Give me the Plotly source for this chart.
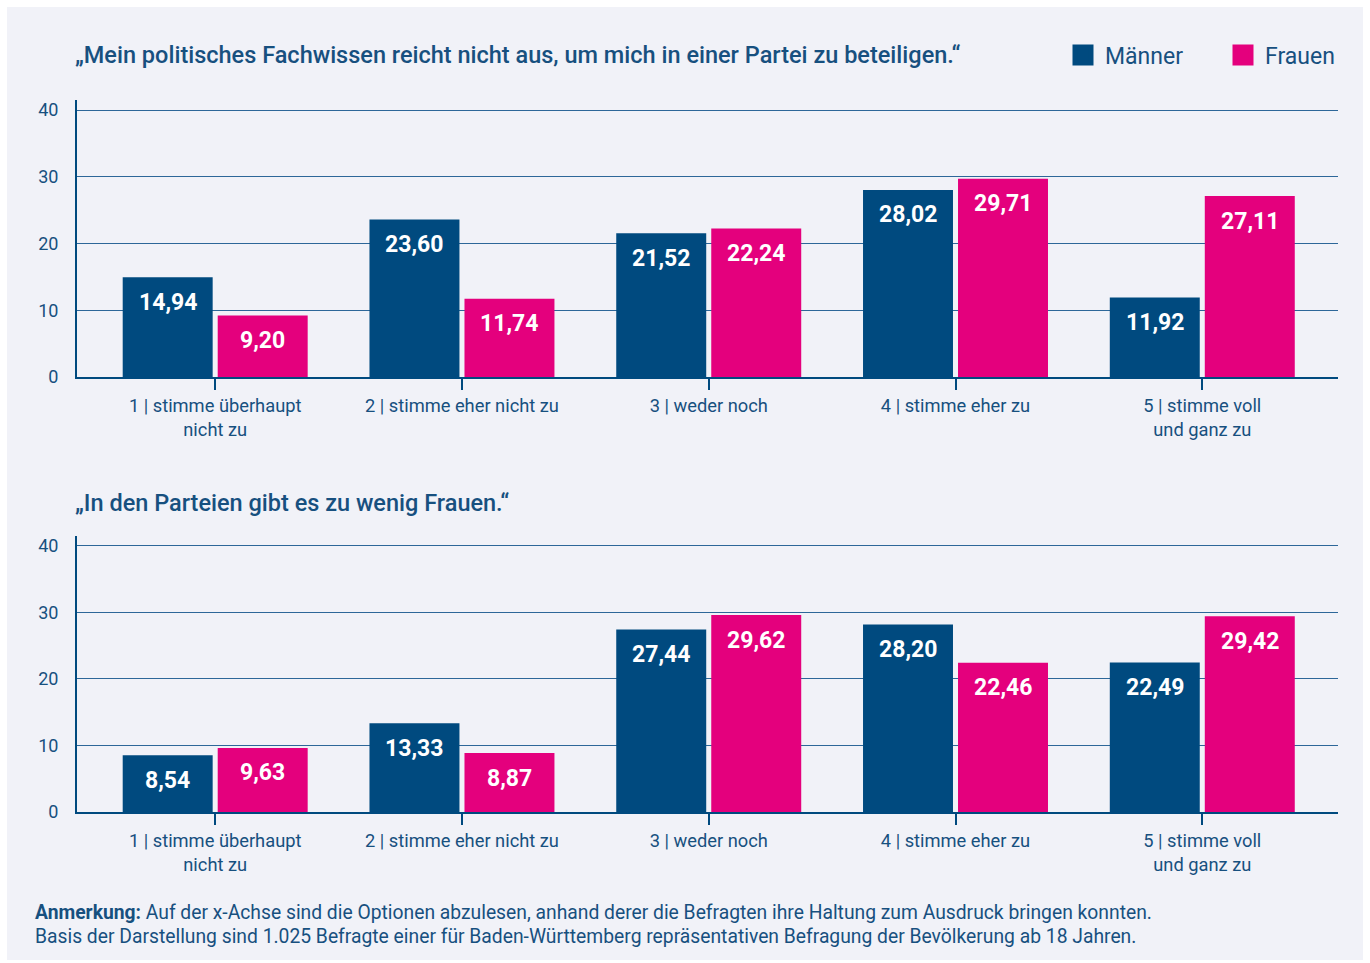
import plotly.graph_objects as go

W, H = 1370, 963
categories = ["1 | stimme überhaupt<br>nicht zu", "2 | stimme eher nicht zu", "3 | weder noch",
              "4 | stimme eher zu", "5 | stimme voll<br>und ganz zu"]
maenner_1 = [14.94, 23.60, 21.52, 28.02, 11.92]
frauen_1 = [9.20, 11.74, 22.24, 29.71, 27.11]
maenner_2 = [8.54, 13.33, 27.44, 28.20, 22.49]
frauen_2 = [9.63, 8.87, 29.62, 22.46, 29.42]
title_1 = "„Mein politisches Fachwissen reicht nicht aus, um mich in einer Partei zu beteiligen.“"
title_2 = "„In den Parteien gibt es zu wenig Frauen.“"
note_1 = "<b>Anmerkung:</b> Auf der x-Achse sind die Optionen abzulesen, anhand derer die Befragten ihre Haltung zum Ausdruck bringen konnten."
note_2 = "Basis der Darstellung sind 1.025 Befragte einer für Baden-Württemberg repräsentativen Befragung der Bevölkerung ab 18 Jahren."

NAVY = "#004a7f"
PINK = "#e4007d"
TXT = "#17507f"
GRID = "#2d6799"
FONT = "Roboto"
BARGAP = 0.23
BARGROUPGAP = 0.053

def px_x(p):
    return p / W

def px_y(p):
    return (H - p) / H

def fmt(v):
    return f"{v:.2f}".replace(".", ",")

fig = go.Figure()
label_annotations = []

def add_bars(m, f, xa, ya):
    slot = (1 - BARGAP) / 2
    for k, (name, vals, col) in enumerate((("Männer", m, NAVY), ("Frauen", f, PINK))):
        fig.add_trace(go.Bar(
            x=categories, y=vals, name=name, marker=dict(color=col, line=dict(width=0)),
            xaxis=xa, yaxis=ya, showlegend=False, hoverinfo="skip",
        ))
        off = (k - 0.5) * slot
        for i, v in enumerate(vals):
            label_annotations.append(dict(
                x=i + off, y=v, xref=xa, yref=ya, text=fmt(v), showarrow=False,
                xanchor="center", yanchor="middle", yshift=-25,
                font=dict(family=FONT, size=23, color="white", weight="bold"),
            ))

add_bars(maenner_1, frauen_1, "x", "y")
add_bars(maenner_2, frauen_2, "x2", "y2")

# legend entries
for name, col in (("Männer", NAVY), ("Frauen", PINK)):
    fig.add_trace(go.Scatter(x=[None], y=[None], mode="markers", name=name,
                             marker=dict(symbol="square", size=16, color=col,
                                         line=dict(color=col, width=5)),
                             xaxis="x", yaxis="y", showlegend=True))

xdom = [px_x(77), px_x(1338)]
xaxis_common = dict(
    type="category", range=[-0.56, 4.55], domain=xdom, showline=True, linecolor=NAVY, linewidth=2,
    ticks="outside", ticklen=11, tickwidth=2, tickcolor=NAVY, showgrid=False,
    tickfont=dict(family=FONT, size=18.3, color=TXT), zeroline=False, automargin=False,
)
yaxis_common = dict(
    range=[0, 41.5], tickvals=[0, 10, 20, 30, 40], showline=True, linecolor=NAVY, linewidth=2,
    showgrid=True, gridcolor=GRID, gridwidth=1, zeroline=False, ticks="",
    ticklabelstandoff=13, tickfont=dict(family=FONT, size=18, color=TXT), automargin=False,
)

fig.update_layout(
    width=W, height=H, margin=dict(l=0, r=0, t=0, b=0, autoexpand=False),
    paper_bgcolor="white", plot_bgcolor="rgba(0,0,0,0)",
    barmode="group", bargap=BARGAP, bargroupgap=BARGROUPGAP,
    font=dict(family=FONT, color=TXT),
    xaxis=dict(**xaxis_common, anchor="y"),
    yaxis=dict(**yaxis_common, domain=[px_y(377), px_y(100)], anchor="x"),
    xaxis2=dict(**xaxis_common, anchor="y2"),
    yaxis2=dict(**yaxis_common, domain=[px_y(812), px_y(536)], anchor="x2"),
    showlegend=True,
    legend=dict(orientation="h", x=px_x(1061), y=px_y(55), xanchor="left", yanchor="middle",
                bgcolor="rgba(0,0,0,0)", font=dict(family=FONT, size=23, color=TXT),
                entrywidth=111, entrywidthmode="pixels", itemsizing="trace", itemwidth=34),
    shapes=[dict(type="rect", xref="paper", yref="paper", x0=px_x(7), x1=px_x(1363),
                 y0=px_y(960), y1=px_y(7), fillcolor="#f1f2f8", line=dict(width=0), layer="below")],
    annotations=label_annotations + [
        dict(text=title_1, x=px_x(73), y=px_y(55), xref="paper", yref="paper", xanchor="left",
             yanchor="middle", showarrow=False, font=dict(family=FONT, size=23.5, color=TXT, weight=500)),
        dict(text=title_2, x=px_x(73), y=px_y(503), xref="paper", yref="paper", xanchor="left",
             yanchor="middle", showarrow=False, font=dict(family=FONT, size=23.5, color=TXT, weight=500)),
        dict(text=note_1, x=px_x(33), y=px_y(912), xref="paper", yref="paper", xanchor="left",
             yanchor="middle", showarrow=False, font=dict(family=FONT, size=19.3, color=TXT)),
        dict(text=note_2, x=px_x(33), y=px_y(936), xref="paper", yref="paper", xanchor="left",
             yanchor="middle", showarrow=False, font=dict(family=FONT, size=19.3, color=TXT)),
    ],
)

fig.write_html("out.html", config={"displayModeBar": False},
               post_script="document.body.style.margin='0';")
